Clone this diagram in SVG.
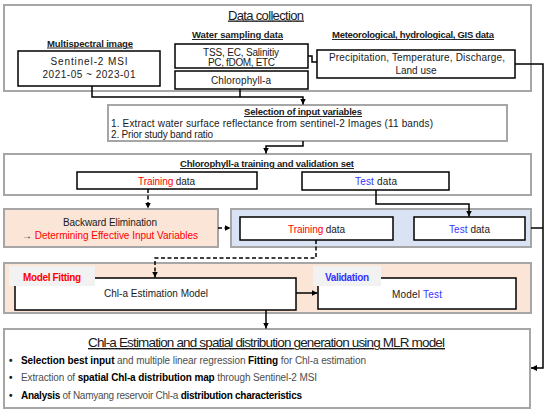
<svg xmlns="http://www.w3.org/2000/svg" width="550" height="413" viewBox="0 0 550 413">
<style>
.g{fill:#fff;stroke:#a6a6a6;stroke-width:2}
.pe{fill:#fbe5d6;stroke:#a6a6a6;stroke-width:2}
.bu{fill:#dae3f3;stroke:#a6a6a6;stroke-width:2}
.b{fill:#fff;stroke:#000;stroke-width:1.5}
.tab{fill:#f2f2f2;stroke:none}
.c{fill:none;stroke:#000;stroke-width:1.5}
.d{stroke-dasharray:4 2.5}
text{font-family:"Liberation Sans","Noto Sans",sans-serif;font-size:10px;fill:#1a1a1a}
.m{text-anchor:middle}
.h{font-weight:bold;font-size:9.5px;text-decoration:underline}
.t1{font-size:13px;text-decoration:underline}
.t2{font-size:13.5px;text-decoration:underline}
.bl9{font-size:10px}
.red{fill:#ff0000}
.blu{fill:#3333ff}
.bo{font-weight:bold;fill:#000}
.rg{fill:#4d4d4d}
.fb{font-weight:bold}
</style>
<defs>
<marker id="ar" markerUnits="userSpaceOnUse" markerWidth="7" markerHeight="7" refX="6" refY="3.5" orient="auto">
<path d="M0,0.5 L6,3.5 L0,6.5 z" fill="#000"/>
</marker>
</defs>

<g id="data-collection">
<rect class="g" x="4" y="5" width="527" height="86"/>
<text class="m t1" x="266" y="19.5" textLength="76">Data collection</text>
</g>
<g id="multispectral">
<text class="m h" x="90" y="46.5" textLength="86">Multispectral image</text>
<rect class="b" x="18" y="51" width="142" height="35"/>
<text class="m" x="89" y="64.5" textLength="77">Sentinel-2 MSI</text>
<text class="m" x="89" y="77.5" textLength="93">2021-05 ~ 2023-01</text>
</g>
<g id="water-sampling">
<text class="m h" x="237.5" y="38" textLength="91">Water sampling data</text>
<rect class="b" x="175" y="44" width="133" height="24"/>
<text class="m" x="241" y="55.5" textLength="76">TSS, EC, Salinitiy</text>
<text class="m" x="241.5" y="65.5" textLength="67">PC, fDOM, ETC</text>
</g>
<g id="chlorophyll">
<rect class="b" x="175" y="71" width="133" height="18"/>
<text class="m" x="241" y="84" textLength="60">Chlorophyll-a</text>
</g>
<g id="meteorological">
<text class="m h" x="413" y="38" textLength="162">Meteorological, hydrological, GIS data</text>
<rect class="b" x="317" y="50" width="198" height="28"/>
<text class="m" x="417" y="61" textLength="176">Precipitation, Temperature, Discharge,</text>
<text class="m" x="416" y="74">Land use</text>
</g>
<g id="selection">
<rect class="g" x="108" y="105" width="399" height="36"/>
<text class="m h" x="303" y="115" textLength="118">Selection of input variables</text>
<text x="111" y="127" textLength="322">1. Extract water surface reflectance from sentinel-2 Images (11 bands)</text>
<text x="111" y="138" textLength="102">2. Prior study band ratio</text>
</g>
<g id="training-validation-set">
<rect class="g" x="4" y="154" width="527" height="41"/>
<text class="m h" x="267" y="167" textLength="174">Chlorophyll-a training and validation set</text>
<rect class="b" x="77" y="172" width="180" height="17"/>
<text class="m" x="166.5" y="185" textLength="57"><tspan class="red">Training</tspan> data</text>
<rect class="b" x="302" y="172" width="147" height="18"/>
<text class="m" x="376" y="185" textLength="42"><tspan class="blu">Test</tspan> data</text>
</g>
<g id="backward-elimination">
<rect class="pe" x="4" y="209" width="214" height="38"/>
<text class="m" x="110" y="226" textLength="94">Backward Elimination</text>
<text class="m" x="110" y="239" textLength="176">→ <tspan class="red">Determining Effective Input Variables</tspan></text>
</g>
<g id="split-data">
<rect class="bu" x="231" y="209" width="300" height="38"/>
<rect class="b" x="240" y="217" width="153" height="23"/>
<text class="m" x="316.5" y="233" textLength="57"><tspan class="red">Training</tspan> data</text>
<rect class="b" x="414" y="217" width="111" height="23"/>
<text class="m" x="469.5" y="233" textLength="41"><tspan class="blu">Test</tspan> data</text>
</g>
<g id="model-fitting">
<rect class="pe" x="4" y="263" width="527" height="50"/>
<rect class="b" x="15" y="278" width="281" height="32"/>
<rect class="tab" x="9" y="266" width="86" height="20"/>
<text class="m red fb" x="52" y="281" textLength="58">Model Fitting</text>
<text class="m" x="156" y="297" textLength="104">Chl-a Estimation Model</text>
</g>
<g id="validation">
<rect class="b" x="318" y="278" width="198" height="31"/>
<rect class="tab" x="313" y="266" width="68" height="20"/>
<text class="m blu fb" x="347" y="281" textLength="44">Validation</text>
<text class="m" x="417" y="298" textLength="50">Model <tspan class="blu">Test</tspan></text>
</g>
<g id="mlr-result">
<rect class="g" x="4" y="329" width="526" height="79"/>
<text class="m t2" x="266.5" y="347" textLength="357">Chl-a Estimation and spatial distribution generation using MLR model</text>
<text class="fb" x="9" y="363.5">•</text>
<text class="bl9" x="21" y="363.5" textLength="345"><tspan class="bo">Selection best input</tspan><tspan class="rg"> and multiple linear regression </tspan><tspan class="bo">Fitting</tspan><tspan class="rg"> for Chl-a estimation</tspan></text>
<text class="fb" x="9" y="381">•</text>
<text class="bl9" x="21" y="381" textLength="296"><tspan class="rg">Extraction of </tspan><tspan class="bo">spatial Chl-a distribution map</tspan><tspan class="rg"> through Sentinel-2 MSI</tspan></text>
<text class="fb" x="9" y="398.5">•</text>
<text class="bl9" x="21" y="398.5" textLength="281"><tspan class="bo">Analysis</tspan><tspan class="rg"> of Namyang reservoir Chl-a </tspan><tspan class="bo">distribution characteristics</tspan></text>
</g>

<g id="connectors">
<path class="c" d="M92,86 V97 H303 V104.5" marker-end="url(#ar)"/>
<path class="c" d="M240,89 V97"/>
<path class="c" d="M308,56 H312 V62 H317"/>
<path class="c" d="M303,141 V146 H266 V153.5" marker-end="url(#ar)"/>
<path class="c" d="M515,64 H543 V368 H531" marker-end="url(#ar)"/>
<path class="c" d="M531,228 H543"/>
<path class="c d" d="M148,189 V208.5" marker-end="url(#ar)"/>
<path class="c d" d="M218,228 H230.5" marker-end="url(#ar)"/>
<path class="c" d="M376,190 V204 H469 V216.5" marker-end="url(#ar)"/>
<path class="c d" d="M316,240 V258 H155 V277.5" marker-end="url(#ar)"/>
<path class="c" d="M296,293 H317.5" marker-end="url(#ar)"/>
<path class="c" d="M266,310 V328.5" marker-end="url(#ar)"/>
</g>
</svg>
